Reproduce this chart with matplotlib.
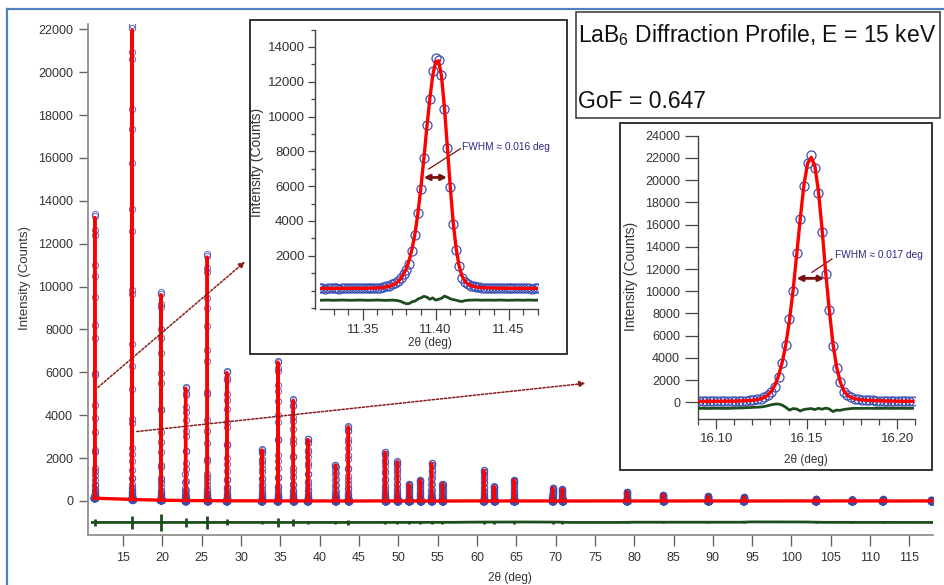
# LaB6 diffraction profile, main pattern + two zoomed peak insets

import matplotlib
matplotlib.use('Agg')
import matplotlib.pyplot as plt
from matplotlib.patches import Rectangle
from matplotlib.lines import Line2D
import numpy as np

plt.rcParams['font.family'] = ['Liberation Sans', 'DejaVu Sans']
plt.rcParams['mathtext.fontset'] = 'custom'
plt.rcParams['mathtext.rm'] = 'Liberation Sans'
plt.rcParams['mathtext.it'] = 'Liberation Sans:italic'

W, H = 945, 585

# ---------------- data: main pattern ----------------
peak_pos = [11.40, 16.15, 19.82, 22.95, 25.70, 28.19, 32.65, 34.68, 36.64, 38.49,
            42.01, 43.64, 48.33, 49.88, 51.36, 52.80, 54.23, 55.62, 60.87, 62.20,
            64.72, 69.62, 70.87, 79.08, 83.68, 89.40, 93.92, 103.10, 107.70, 111.60,
            117.80]
peak_height = [13250, 22150, 9700, 5300, 11500, 6050, 2400, 6550, 4750, 2900,
               1700, 3500, 2300, 1850, 780, 1000, 1780, 800, 1450, 680,
               1000, 620, 560, 430, 300, 240, 190, 100, 70, 80,
               60]
peak_base = [130, 70, 35, 20, 12, 8, 4, 3, 2, 1,
             0, 0, 0, 0, 0, 0, 0, 0, 0, 0,
             0, 0, 0, 0, 0, 0, 0, 0, 0, 0,
             0]
resid_spike = [180, 310, 400, 210, 290, 140, 50, 220, 180, 80,
               50, 120, 60, 60, 50, 50, 60, 50, 60, 50,
               60, 50, 50, 40, 30, 30, 30, 30, 20, 20,
               20]
resid_x = [11.1, 45, 57, 60, 66, 70, 72, 78, 80, 93.5, 95, 102, 104, 117.95]
resid_y = [-1000, -1000, -995, -985, -980, -985, -1000, -1000, -990, -990, -975, -980, -995, -1000]

# ---------------- data: inset 1 (11.40 deg peak) ----------------
x1 = np.round(11.320 + 0.002 * np.arange(76), 3)
obs1 = [120, 120, 115, 120, 125, 120, 120, 115, 120, 125,
        120, 125, 120, 125, 130, 125, 130, 135, 140, 150,
        160, 175, 200, 240, 290, 360, 450, 560, 730, 950,
        1200, 1550, 2250, 3200, 4450, 5850, 7600, 9500, 11000, 12600,
        13350, 13250, 12400, 10450, 8200, 5950, 3850, 2350, 1400, 720,
        480, 360, 290, 240, 210, 190, 175, 165, 160, 150,
        145, 140, 140, 135, 130, 130, 125, 130, 125, 120,
        125, 120, 120, 115, 120, 125]
fit1 = [122, 122, 122, 122, 122, 122, 122, 123, 123, 124,
        124, 125, 126, 127, 128, 130, 132, 135, 139, 144,
        152, 163, 180, 205, 245, 300, 380, 500, 680, 930,
        1280, 1780, 2450, 3350, 4550, 6000, 7650, 9400, 11000, 12350,
        13150, 13200, 12350, 10550, 8300, 6000, 3950, 2450, 1450, 850,
        540, 380, 290, 240, 205, 185, 170, 160, 152, 146,
        141, 137, 134, 131, 129, 127, 126, 125, 124, 123,
        123, 122, 122, 122, 122, 122]
res1 = [-560, -555, -550, -545, -555, -560, -555, -550, -545, -550,
        -555, -560, -555, -550, -545, -550, -555, -560, -555, -550,
        -545, -550, -560, -565, -555, -550, -560, -580, -620, -700,
        -760, -740, -640, -600, -480, -420, -330, -380, -500, -420,
        -550, -500, -450, -320, -380, -470, -520, -550, -600, -630,
        -580, -560, -550, -545, -540, -550, -555, -550, -545, -550,
        -555, -550, -545, -550, -555, -560, -555, -550, -545, -550,
        -555, -550, -545, -550, -555, -550]

# ---------------- data: inset 2 (16.15 deg peak) ----------------
x2 = np.round(16.0905 + 0.002 * np.arange(60), 4)
obs2 = [110, 100, 105, 110, 100, 105, 110, 105, 115, 120,
        125, 130, 140, 160, 190, 230, 280, 340, 440, 640,
        960, 1410, 2310, 3570, 5130, 7470, 9990, 13410, 16530, 19500,
        21570, 22300, 21120, 18870, 15360, 11520, 8310, 5070, 3090, 1830,
        960, 620, 440, 340, 280, 240, 210, 190, 170, 160,
        150, 140, 130, 125, 120, 115, 110, 110, 105, 100]
fit2 = [90, 90, 92, 94, 96, 98, 100, 103, 106, 110,
        115, 122, 132, 146, 166, 195, 240, 310, 430, 640,
        1000, 1550, 2400, 3600, 5200, 7400, 10100, 13300, 16600, 19600,
        21500, 22050, 21300, 19000, 15600, 11700, 8300, 5300, 3200, 1850,
        1050, 640, 440, 330, 270, 230, 200, 180, 165, 150,
        140, 130, 122, 115, 110, 105, 100, 96, 93, 90]
res2 = [-545, -540, -550, -545, -540, -535, -540, -545, -540, -535,
        -520, -510, -500, -490, -470, -450, -440, -420, -380, -300,
        -220, -160, -150, -250, -450, -700, -560, -600, -780, -640,
        -600, -560, -650, -540, -620, -520, -600, -830, -700, -720,
        -640, -600, -560, -540, -545, -540, -535, -540, -545, -540,
        -545, -540, -535, -540, -545, -540, -540, -545, -540, -540]

RED = '#ff0000'
BLUE = '#3b4fb0'
GREEN = '#1d4d1d'
DARKRED = '#8b1a1a'


def fig_xy(px, py):
    return px / W, 1 - py / H


fig = plt.figure(figsize=(W / 100, H / 100), dpi=100)

# slide frame lines
fig.add_artist(Line2D([7 / W, 1], [1 - 9 / H, 1 - 9 / H], color='#4f81bd', lw=1.6))
fig.add_artist(Line2D([7 / W, 7 / W], [1 - 9 / H, 0], color='#4f81bd', lw=1.6))

# ---------------- main axes ----------------
ax = fig.add_axes([87.7 / W, 1 - 535 / H, (933 - 87.7) / W, (535 - 24) / H])
ax.set_xlim(10.5, 118.0)
ax.set_ylim(-1586, 22250)

shape_obs = (np.array(obs1) - 120) / (max(obs1) - 120)
shape_fit = (np.array(fit1) - 122) / (max(obs1) - 120)
dx = x1 - 11.40

ox, oy, lx, ly = [], [], [], []
for p, h, b in zip(peak_pos, peak_height, peak_base):
    ox.extend(p + dx)
    oy.extend(b + shape_obs * h)
    lx.extend(p + dx)
    ly.extend(b + shape_fit * h)

ax.plot(ox, oy, 'o', ms=4.5, mfc='none', mec=BLUE, mew=0.8, alpha=0.75, zorder=2)
ax.plot(lx, ly, color=RED, lw=2.4, zorder=3, solid_joinstyle='round')

ax.plot(resid_x, resid_y, color=GREEN, lw=2, zorder=3)
ax.vlines(peak_pos, [resid_y[0] - s for s in resid_spike],
          [resid_y[0] + s for s in resid_spike], color=GREEN, lw=2, zorder=3)

for s in ['top', 'right']:
    ax.spines[s].set_visible(False)
for s in ['left', 'bottom']:
    ax.spines[s].set_color('#888888')
    ax.spines[s].set_linewidth(1.2)
ax.set_yticks(np.arange(0, 22001, 2000))
ax.set_xticks(np.arange(15, 116, 5))
ax.tick_params(axis='y', direction='out', length=6.5, width=1, colors='#666666',
               labelcolor='#333333', labelsize=9, pad=4)
ax.tick_params(axis='x', direction='out', length=8, width=1, colors='#666666',
               labelcolor='#333333', labelsize=9, pad=4)

# dotted arrows pointing at the insets
arr = dict(arrowstyle='-|>', color=DARKRED, lw=1.1, linestyle=(0, (1.5, 1.2)),
           mutation_scale=9, shrinkA=0, shrinkB=0)
ax.annotate('', xy=(30.5, 11160), xytext=(11.8, 5300), arrowprops=arr, zorder=5)
ax.annotate('', xy=(73.8, 5490), xytext=(16.75, 3240), arrowprops=arr, zorder=5)

fig.text(*fig_xy(25, 278), 'Intensity (Counts)', rotation=90, ha='center', va='center',
         fontsize=9.5, color='#333333')
fig.text(*fig_xy(510, 578), '2θ (deg)', ha='center', va='center', fontsize=8.5,
         color='#333333')

# ---------------- boxes ----------------
def add_box(x0, y0, x1_, y1_, lw=1.4, zorder=4):
    r = Rectangle((x0 / W, 1 - y1_ / H), (x1_ - x0) / W, (y1_ - y0) / H,
                  transform=fig.transFigure, facecolor='white', edgecolor='#333333',
                  lw=lw, zorder=zorder)
    fig.add_artist(r)


add_box(250, 20, 567, 354)
add_box(620, 123, 932, 470)
add_box(576, 12, 940, 118, lw=1.1)

fig.text(*fig_xy(578, 35), r'LaB$_6$ Diffraction Profile, E = 15 keV', ha='left',
         va='center', fontsize=16.5, color='#111111', zorder=6)
fig.text(*fig_xy(578, 101), 'GoF = 0.647', ha='left', va='center', fontsize=16.5,
         color='#111111', zorder=6)


def style_inset(a):
    for s in ['top', 'right']:
        a.spines[s].set_visible(False)
    for s in ['left', 'bottom']:
        a.spines[s].set_color('#444444')
        a.spines[s].set_linewidth(1)
    a.set_facecolor('none')
    a.tick_params(which='major', direction='out', length=7, width=0.9, colors='#444444',
                  labelcolor='#333333', labelsize=9.5, pad=3)
    a.tick_params(which='minor', direction='out', length=4, width=0.9, colors='#444444')


# ---------------- inset 1 ----------------
ai = fig.add_axes([320 / W, 1 - 309 / H, 217.7 / W, 279.5 / H], zorder=5)
ai.set_xlim(11.3207, 11.470)
ai.set_ylim(-1060, 15000)
ai.plot(x1, obs1, 'o', ms=6.5, mfc='none', mec=BLUE, mew=0.9, zorder=2)
ai.plot(x1, fit1, color=RED, lw=2.4, zorder=3)
ai.plot(x1, res1, color=GREEN, lw=2, zorder=3)
style_inset(ai)
ai.spines['left'].set_position(('outward', 3.6))
ai.set_yticks(np.arange(2000, 14001, 2000))
ai.set_yticks(np.arange(-1000, 15001, 1000), minor=True)
ai.set_xticks([11.35, 11.40, 11.45])
ai.set_xticklabels(['11.35', '11.40', '11.45'])
ai.set_xticks(np.round(np.arange(11.33, 11.471, 0.01), 2), minor=True)
ai.tick_params(axis='x', which='major', length=8)
ai.tick_params(axis='y', which='major', length=5, pad=2.5)
ai.tick_params(axis='y', which='minor', length=3)
ai.annotate('', xy=(11.4078, 6500), xytext=(11.3918, 6500),
            arrowprops=dict(arrowstyle='<|-|>', color='#7a1010', lw=2, mutation_scale=8,
                            shrinkA=0, shrinkB=0))
ai.plot([11.3952, 11.4170], [6980, 8150], color='#7a1010', lw=0.9)
ai.text(11.4184, 8250, 'FWHM ≈ 0.016 deg', fontsize=7.3, color='#2b2b80',
        ha='left', va='center')
fig.text(*fig_xy(257, 162), 'Intensity (Counts)', rotation=90, ha='center', va='center',
         fontsize=10, color='#333333', zorder=6)
fig.text(*fig_xy(430, 343), '2θ (deg)', ha='center', va='center', fontsize=8.5,
         color='#333333', zorder=6)

# ---------------- inset 2 ----------------
aj = fig.add_axes([697.5 / W, 1 - 419 / H, 217.8 / W, 283.3 / H], zorder=5)
aj.set_xlim(16.0897, 16.210)
aj.set_ylim(-1500, 24000)
aj.plot(x2, obs2, 'o', ms=6.5, mfc='none', mec=BLUE, mew=0.9, zorder=2)
aj.plot(x2, fit2, color=RED, lw=2.4, zorder=3)
aj.plot(x2, res2, color=GREEN, lw=2, zorder=3)
style_inset(aj)
aj.set_yticks(np.arange(0, 24001, 2000))
aj.set_xticks([16.10, 16.15, 16.20])
aj.set_xticklabels(['16.10', '16.15', '16.20'])
aj.set_xticks(np.round(np.arange(16.09, 16.211, 0.01), 2), minor=True)
aj.tick_params(axis='x', which='major', length=7)
aj.tick_params(axis='y', which='major', labelsize=9, length=9.5, pad=3)
aj.annotate('', xy=(16.1598, 11160), xytext=(16.1444, 11160),
            arrowprops=dict(arrowstyle='<|-|>', color='#7a1010', lw=2, mutation_scale=8,
                            shrinkA=0, shrinkB=0))
aj.plot([16.1529, 16.1640], [11700, 12900], color='#7a1010', lw=0.9)
aj.text(16.1655, 13260, 'FWHM ≈ 0.017 deg', fontsize=7.3, color='#2b2b80',
        ha='left', va='center')
fig.text(*fig_xy(631, 276), 'Intensity (Counts)', rotation=90, ha='center', va='center',
         fontsize=10, color='#333333', zorder=6)
fig.text(*fig_xy(806, 460), '2θ (deg)', ha='center', va='center', fontsize=8.5,
         color='#333333', zorder=6)

fig.savefig('out.png', dpi=100)
